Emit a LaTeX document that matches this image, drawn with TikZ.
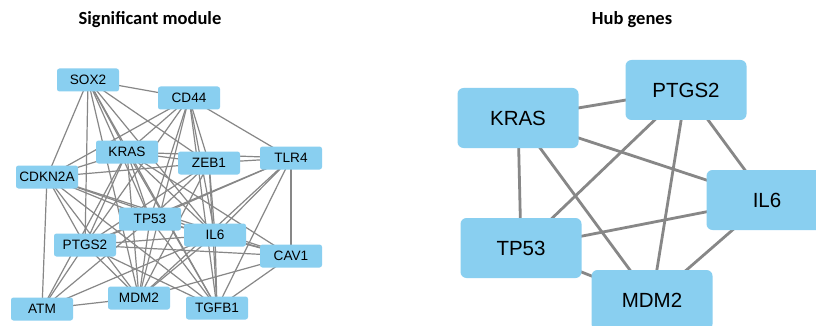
\documentclass[tikz,border=0pt]{standalone}
\usepackage{fontspec}
\setmainfont{Liberation Sans}
\newfontfamily\titlefont{Carlito}
\usetikzlibrary{backgrounds}
\definecolor{nodeblue}{RGB}{137,207,240}
\definecolor{edgegray}{RGB}{135,135,135}
\tikzset{
  smallgene/.style={fill=nodeblue, rounded corners=2.5pt, minimum width=62pt, minimum height=23pt, inner sep=0pt, font=\fontsize{13.6}{13.6}\selectfont},
  biggene/.style={fill=nodeblue, rounded corners=6pt, minimum width=121pt, minimum height=60pt, inner sep=0pt, font=\fontsize{20.5}{20.5}\selectfont},
  thinedge/.style={draw=edgegray, line width=1.2pt},
  thickedge/.style={draw=edgegray, line width=2.8pt},
  paneltitle/.style={font=\titlefont\bfseries\fontsize{18.5}{18.5}\selectfont}
}
\begin{document}
\begin{tikzpicture}[x=1pt,y=-1pt]
\useasboundingbox (0,0) rectangle (816,326);
\clip (0,0) rectangle (816,326);
% titles
\node[paneltitle] (t1) at (150,20) {Significant module};
\node[paneltitle] (t2) at (632,20) {Hub genes};
% left nodes
\node[smallgene] (sox2) at (88,80) {SOX2};
\node[smallgene] (cd44) at (189,98) {CD44};
\node[smallgene] (kras) at (127,152) {KRAS};
\node[smallgene] (zeb1) at (209,163) {ZEB1};
\node[smallgene] (tlr4) at (291,158) {TLR4};
\node[smallgene] (cdkn) at (47,177) {CDKN2A};
\node[smallgene] (tp53) at (150,219) {TP53};
\node[smallgene] (il6) at (215,235) {IL6};
\node[smallgene] (ptgs) at (85,245) {PTGS2};
\node[smallgene] (cav1) at (291,256) {CAV1};
\node[smallgene] (atm) at (42,309) {ATM};
\node[smallgene] (mdm2) at (139,298) {MDM2};
\node[smallgene] (tgfb) at (217,308) {TGFB1};
% right nodes
\node[biggene] (hkras) at (518,118) {KRAS};
\node[biggene] (hptgs) at (686,90) {PTGS2};
\node[biggene] (hil6) at (767,200) {IL6};
\node[biggene] (htp53) at (521,248) {TP53};
\node[biggene] (hmdm2) at (652,300) {MDM2};
\begin{pgfonlayer}{background}
\fill[white] (0,0) rectangle (816,326);
\foreach \a/\b in {
  sox2/cd44, sox2/cdkn, sox2/kras, sox2/zeb1, sox2/tp53, sox2/il6, sox2/mdm2, sox2/tgfb, sox2/ptgs,
  cd44/kras, cd44/zeb1, cd44/tlr4, cd44/tp53, cd44/il6, cd44/mdm2, cd44/tgfb, cd44/ptgs, cd44/cdkn,
  kras/zeb1, kras/tlr4, kras/cdkn, kras/tp53, kras/il6, kras/ptgs, kras/mdm2, kras/tgfb, kras/cav1, kras/atm,
  zeb1/tlr4, zeb1/cdkn, zeb1/tp53, zeb1/il6, zeb1/mdm2, zeb1/tgfb, zeb1/ptgs,
  tlr4/tp53, tlr4/il6, tlr4/cav1, tlr4/tgfb, tlr4/mdm2, tlr4/ptgs,
  cdkn/tp53, cdkn/il6, cdkn/mdm2, cdkn/tgfb, cdkn/atm, cdkn/ptgs, cdkn/cav1,
  tp53/il6, tp53/ptgs, tp53/mdm2, tp53/tgfb, tp53/atm, tp53/cav1,
  il6/ptgs, il6/cav1, il6/mdm2, il6/tgfb, il6/atm,
  ptgs/cav1, ptgs/mdm2, ptgs/tgfb, ptgs/atm,
  cav1/mdm2, cav1/tgfb, atm/mdm2}
  {\draw[thinedge] (\a.center) -- (\b.center);}
\foreach \a/\b in {hkras/hptgs, hkras/hil6, hkras/htp53, hkras/hmdm2, hptgs/htp53, hptgs/hmdm2, hptgs/hil6, hil6/htp53, hil6/hmdm2, htp53/hmdm2}
  {\draw[thickedge] (\a.center) -- (\b.center);}
\end{pgfonlayer}
\end{tikzpicture}
\end{document}
